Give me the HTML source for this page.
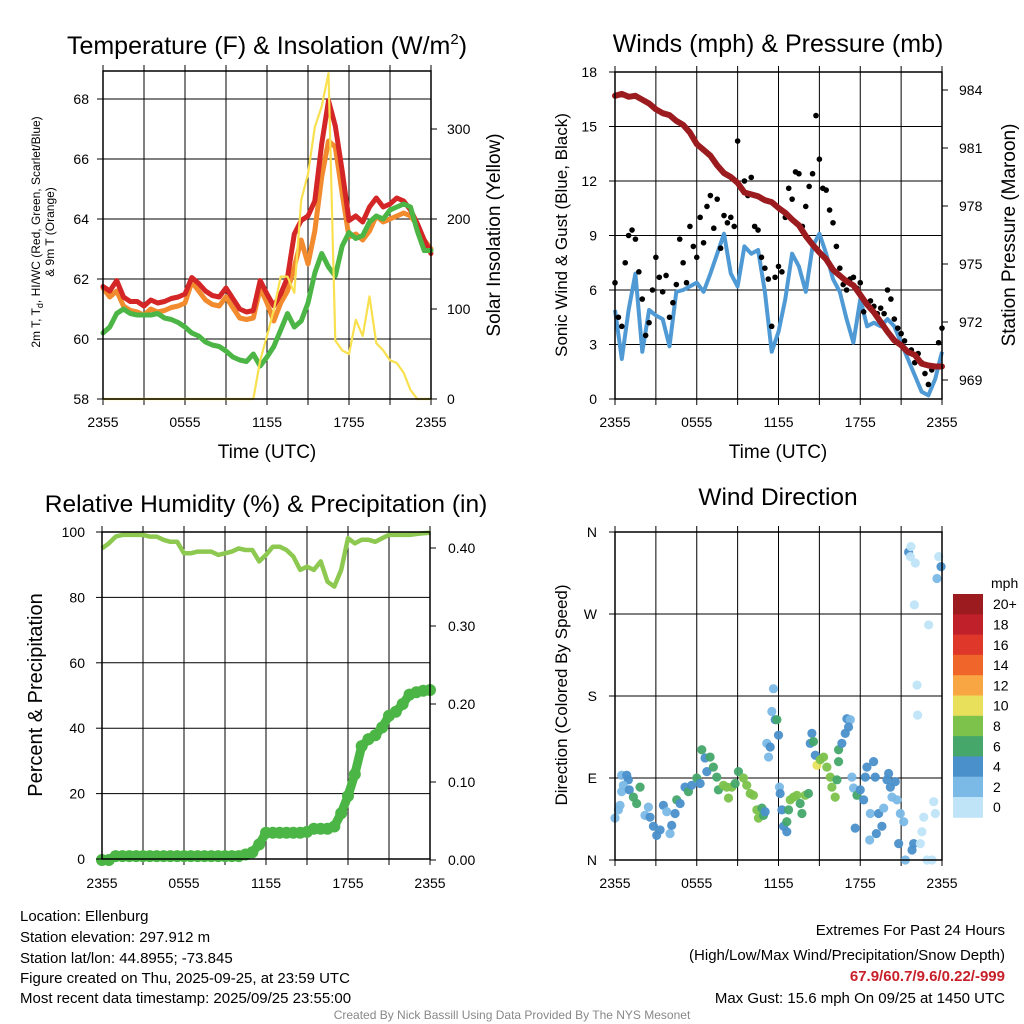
<!DOCTYPE html>
<html><head><meta charset="utf-8">
<style>
body{margin:0;background:#fff;}
svg{display:block;font-family:"Liberation Sans",sans-serif;}
</style></head>
<body>
<svg id="fig" width="1024" height="1024" viewBox="0 0 1024 1024">
<rect width="1024" height="1024" fill="#fff"/>
<g id="p1"></g>
<g id="p2"></g>
<g id="p3"></g>
<g id="p4"></g>
<g font-size="15" fill="#000">
<text x="20" y="921">Location: Ellenburg</text>
<text x="20" y="942">Station elevation: 297.912 m</text>
<text x="20" y="963">Station lat/lon: 44.8955; -73.845</text>
<text x="20" y="983">Figure created on Thu, 2025-09-25, at 23:59 UTC</text>
<text x="20" y="1003">Most recent data timestamp: 2025/09/25 23:55:00</text>
</g>
<g font-size="15" text-anchor="end">
<text x="1005" y="935">Extremes For Past 24 Hours</text>
<text x="1005" y="960">(High/Low/Max Wind/Precipitation/Snow Depth)</text>
<text x="1005" y="981" fill="#c8202a" font-weight="bold">67.9/60.7/9.6/0.22/-999</text>
<text x="1005" y="1003">Max Gust: 15.6 mph On 09/25 at 1450 UTC</text>
</g>
<text x="512" y="1019" font-size="12" fill="#888" text-anchor="middle">Created By Nick Bassill Using Data Provided By The NYS Mesonet</text>
</svg>
<script>
// ---------- data ----------
const xTickLabels = ["2355","0555","1155","1755","2355"];
const tempRed = [61.75,61.6,61.95,61.4,61.25,61.25,61.1,61.3,61.2,61.25,61.35,61.4,61.5,62.05,61.85,61.6,61.45,61.4,61.7,61.35,61.0,60.9,60.95,61.95,61.5,61.1,61.5,62.05,63.5,63.95,64.1,64.6,66.5,67.95,67.1,65.6,63.95,64.1,63.9,64.4,64.7,64.4,64.5,64.7,64.6,64.3,63.85,63.3,62.85];
const tempOrange = [61.7,61.4,61.6,61.1,60.95,60.9,60.8,61.0,60.9,60.95,61.05,61.1,61.2,61.9,61.6,61.3,61.15,61.1,61.4,61.05,60.7,60.65,60.7,61.7,61.2,60.6,61.2,61.6,62.4,63.3,62.5,63.6,65.4,66.6,66.4,64.85,63.4,63.5,63.3,63.6,64.1,63.9,64.0,64.1,64.2,64.1,63.8,63.3,63.0];
const tempGreen = [60.2,60.4,60.85,61.0,60.85,60.8,60.8,60.8,60.85,60.7,60.65,60.55,60.4,60.2,60.1,59.9,59.8,59.75,59.6,59.4,59.3,59.25,59.5,59.1,59.4,59.75,60.3,60.85,60.4,60.6,61.2,62.2,62.85,62.4,62.1,63.1,63.55,63.35,63.45,63.9,64.1,64.0,64.3,64.4,64.5,64.4,63.6,62.95,62.95];
const solar = [0,0,0,0,0,0,0,0,0,0,0,0,0,0,0,0,0,0,0,0,0,0,0,43,70,99,136,136,118,221,250,302,325,362,65,54,50,88,70,114,62,54,43,40,29,10,0,0,0];
const tempTicks = [58,60,62,64,66,68];
const solarTicks = [0,100,200,300];

const windSpd = [4.9,2.2,4.9,6.9,2.6,4.9,4.6,4.4,2.9,5.9,6.0,6.2,6.4,5.9,6.9,8.0,9.1,6.9,6.2,8.4,8.0,8.2,5.9,2.6,3.7,5.5,8.0,7.3,5.9,8.4,9.1,8.0,6.6,5.9,4.4,3.1,5.5,4.0,4.2,4.0,4.4,4.0,3.1,2.2,1.3,0.4,0.2,1.1,2.6];
const gust = [6.4,4.5,4.0,7.5,9.0,9.3,8.8,7.0,5.5,3.5,4.2,6.0,7.8,6.7,5.9,6.8,4.5,5.3,6.3,8.8,7.5,6.4,9.5,8.4,7.8,10.0,8.6,10.6,11.2,9.4,11.0,8.3,10.1,9.7,10.0,9.5,14.2,11.6,12.0,11.2,12.2,9.5,9.3,7.8,7.2,6.6,4.0,6.7,7.3,7.0,10.0,11.6,11.0,12.5,12.4,9.5,10.6,11.7,12.4,15.6,13.2,11.6,11.5,10.4,9.7,8.4,7.2,6.3,6.0,6.6,6.7,6.1,6.4,4.8,5.3,5.4,5.1,4.7,5.0,4.7,6.0,5.5,4.4,3.9,3.6,3.2,2.6,2.7,2.0,2.5,2.0,1.4,0.8,1.6,1.8,3.1,3.9];
const pressure = [983.7,983.8,983.65,983.7,983.5,983.3,983.0,982.8,982.7,982.4,982.2,981.8,981.2,980.9,980.6,980.1,979.7,979.5,979.2,978.7,978.6,978.5,978.3,978.2,977.9,977.65,977.3,977.0,976.45,976.0,975.6,975.25,974.7,974.4,974.1,973.9,973.4,972.9,972.5,972.0,971.5,971.05,970.8,970.45,970.3,969.85,969.75,969.7,969.7];
const windTicks = [0,3,6,9,12,15,18];
const presTicks = [969,972,975,978,981,984];

const rh = [95.0,96.5,98.6,99.1,99.1,99.1,99.1,98.6,98.6,97.6,97.0,97.0,93.5,93.5,94.0,94.0,94.0,93.0,93.5,94.0,95.0,94.5,94.5,91.0,93.0,95.5,95.5,94.5,92.5,88.4,89.4,88.4,91.0,84.8,83.3,88.4,98.1,96.5,97.6,97.6,97.0,98.1,99.1,99.1,99.1,99.1,99.4,99.6,99.8];
const precip = [0,0,0.005,0.005,0.005,0.005,0.005,0.005,0.005,0.005,0.005,0.005,0.005,0.005,0.005,0.005,0.005,0.005,0.005,0.005,0.005,0.007,0.01,0.02,0.035,0.035,0.035,0.035,0.035,0.035,0.036,0.04,0.04,0.04,0.043,0.06,0.082,0.11,0.146,0.155,0.16,0.17,0.185,0.19,0.2,0.212,0.215,0.217,0.218];
const rhTicks = [0,20,40,60,80,100];
const precipTicks = ["0.00","0.10","0.20","0.30","0.40"];

const wdHour = [0.0,0.25,0.37,0.49,0.86,0.98,0.61,0.49,1.05,1.35,1.59,1.84,2.2,2.45,2.57,2.82,3.06,3.31,3.55,3.8,4.04,4.16,4.41,4.53,4.78,5.14,5.39,5.63,6.0,6.25,6.37,6.61,6.74,6.98,7.22,7.47,7.59,7.96,8.2,8.33,8.57,8.82,9.06,9.43,9.67,9.92,10.16,10.41,10.53,10.78,10.9,11.02,11.14,11.27,11.39,11.51,11.63,11.76,11.88,12.0,12.07,12.12,12.25,12.37,12.61,12.61,12.74,12.86,13.1,13.35,13.59,13.72,13.96,14.2,14.33,14.45,14.57,14.7,14.82,15.06,15.31,15.55,15.8,15.92,16.16,16.29,16.41,16.41,16.65,16.9,17.02,17.27,17.14,17.39,17.51,17.63,17.76,18.0,18.25,18.37,18.49,18.74,18.69,18.98,19.1,19.18,19.35,19.59,19.72,19.96,20.08,20.21,20.33,20.57,20.7,20.82,20.94,21.19,21.31,21.55,21.72,21.68,21.8,21.92,22.04,21.97,22.17,22.21,22.41,22.53,22.66,23.02,22.9,23.27,23.39,23.51,23.63,23.76,23.93];
const wdDir = [46,55,60,93,93,88,82,75,77,69,62,80,49,58,47,37,27,33,60,53,29,38,51,66,62,80,75,82,90,84,121,112,97,113,102,91,77,82,80,68,80,84,97,90,82,73,71,55,46,57,49,53,128,113,124,163,188,154,154,137,80,73,55,37,31,42,55,66,69,71,62,51,71,73,128,139,130,115,104,110,113,102,91,80,69,88,108,121,128,139,155,154,146,91,79,35,71,77,66,91,102,51,22,108,91,29,51,37,57,88,95,80,69,86,66,18,51,42,0,338,344,333,11,18,326,280,192,159,18,31,47,258,0,0,64,51,309,333,322];
const wdSpd = [3,3,2,2,4,4,2,2,4,6,6,6,2,2,4,4,4,4,4,2,2,4,4,6,4,4,6,4,6,4,6,4,4,6,6,6,6,8,8,8,8,6,6,8,8,8,8,8,8,6,6,4,2,2,4,2,2,4,6,4,2,4,4,4,4,6,6,8,8,8,6,6,8,6,4,4,6,4,10,8,8,8,8,8,8,6,6,6,4,4,4,2,4,2,2,4,6,4,4,4,4,2,2,4,4,4,4,4,2,4,4,4,2,4,2,4,2,2,2,4,1,1,4,4,1,1,1,1,1,1,1,1,1,1,1,1,2,1,4];
const dirTicks = ["N","E","S","W","N"];
const spdLabels = ["0","2","4","6","8","10","12","14","16","18","20+"];
const spdColors = ["#bfe4f8","#7bb9e6","#4a90cb","#45a86a","#7cc24b","#e8e05a","#f7a643","#f06529","#e0372b","#c0202a","#9b1b1f"];

// ---------- helpers ----------
const NS = "http://www.w3.org/2000/svg";
function mk(parent, tag, attrs, txt){
  const e = document.createElementNS(NS, tag);
  for (const k in attrs) e.setAttribute(k, attrs[k]);
  if (txt !== undefined) e.textContent = txt;
  parent.appendChild(e);
  return e;
}
function lin(d0,d1,r0,r1){ return v => r0 + (v-d0)/(d1-d0)*(r1-r0); }
function pathFrom(xs, ys){ return xs.map((x,i)=>(i?"L":"M")+x.toFixed(1)+","+ys[i].toFixed(1)).join(""); }

function frame(g, L, T, R, B, hLines){
  for (let k=0;k<=8;k++){
    const x = L + (R-L)*k/8;
    const gl = mk(g,"line",{x1:x,y1:T,x2:x,y2:B,stroke:"#000","stroke-width":1});
    
    
    mk(g,"line",{x1:x,y1:T,x2:x,y2:T-6,stroke:"#000","stroke-width":1});
    mk(g,"line",{x1:x,y1:B,x2:x,y2:B+6,stroke:"#000","stroke-width":1});
  }
  hLines.forEach(y=>{
    const hl = mk(g,"line",{x1:L,y1:y,x2:R,y2:y,stroke:"#000","stroke-width":1});
    
    
  });
}
function border(g,L,T,R,B){
  const b = mk(g,"rect",{x:L,y:T,width:R-L,height:B-T,fill:"none",stroke:"#000","stroke-width":1.5});
  
  
}
function xTicks(g,L,R,y){
  xTickLabels.forEach((t,i)=>{
    const el = mk(g,"text",{x:L+(R-L)*i/4,y:y,"font-size":14,"text-anchor":"middle"},t);
    
    
  });
}
function title(g,x,y,txt,size){
  const el = mk(g,"text",{x:x,y:y,"font-size":size||23,"text-anchor":"middle"});
  el.innerHTML = txt;
  
  
  return el;
}
function vlabel(g,x,y,txt,size){
  const el = mk(g,"text",{x:0,y:0,"font-size":size,"text-anchor":"middle",transform:`translate(${x},${y}) rotate(-90)`});
  el.innerHTML = txt;
  
  
  return el;
}
const idx = n => Array.from({length:n},(_,i)=>i);

// ---------- Panel 1 ----------
(function(){
  const g = document.getElementById("p1");
  const L=103,R=431,T=71,B=399;
  const x = lin(0,48,L,R), y = lin(58,68,399,99), ys = lin(0,300,399,129);
  frame(g,L,T,R,B,tempTicks.map(y));
  const n = tempRed.length;
  [[tempOrange,"#f28a2e","temp-9m-line"],[tempRed,"#d42626","temp-2m-line"],[tempGreen,"#4bb545","dewpoint-line"]].forEach(s=>{
    const p = mk(g,"path",{d:pathFrom(idx(n).map(x), s[0].map(y)),fill:"none",stroke:s[1],"stroke-width":5,"stroke-linejoin":"round","stroke-linecap":"round"});
    
    
  });
  const sp = mk(g,"path",{d:pathFrom(idx(solar.length).map(x), solar.map(ys)),fill:"none",stroke:"#f9e04f","stroke-width":2.2,"stroke-linejoin":"round"});
  
  
  border(g,L,T,R,B);
  tempTicks.forEach(v=>{
    mk(g,"line",{x1:L-6,y1:y(v),x2:L,y2:y(v),stroke:"#000"});
    const t = mk(g,"text",{x:L-14,y:y(v)+5,"font-size":14,"text-anchor":"end"},String(v));
    
    
  });
  solarTicks.forEach(v=>{
    mk(g,"line",{x1:R,y1:ys(v),x2:R+6,y2:ys(v),stroke:"#000"});
    const t = mk(g,"text",{x:R+16,y:ys(v)+5,"font-size":14},String(v));
    
    
  });
  xTicks(g,L,R,427);
  const xt = mk(g,"text",{x:267,y:458,"font-size":19,"text-anchor":"middle"},"Time (UTC)");
  
  
  title(g,267,54,'Temperature (F) &amp; Insolation (W/m<tspan font-size="15" dy="-10">2</tspan><tspan dy="10">)</tspan>',25);
  vlabel(g,40,232,'2m T, T<tspan font-size="9" dy="3">d</tspan><tspan dy="-3">, HI/WC (Red, Green, Scarlet/Blue)</tspan>',12);
  vlabel(g,54,232,'&amp; 9m T (Orange)',12);
  vlabel(g,500,235,'Solar Insolation (Yellow)',19);
})();

// ---------- Panel 2 ----------
(function(){
  const g = document.getElementById("p2");
  const L=615,R=942,T=72,B=399;
  const x = lin(0,48,L,R), xg = lin(0,96,L,R), y = lin(0,18,399,72), yp = lin(969,984,380,90);
  frame(g,L,T,R,B,windTicks.map(y));
  const wl = mk(g,"path",{d:pathFrom(idx(windSpd.length).map(x), windSpd.map(y)),fill:"none",stroke:"#4f9ad4","stroke-width":4,"stroke-linejoin":"round"});
  
  
  gust.forEach((v,i)=>{
    const c = mk(g,"circle",{cx:xg(i),cy:y(v),r:2.8,fill:"#000"});
    
    
  });
  const pl = mk(g,"path",{d:pathFrom(idx(pressure.length).map(x), pressure.map(yp)),fill:"none",stroke:"#9b1b1f","stroke-width":6,"stroke-linejoin":"round","stroke-linecap":"round"});
  
  
  border(g,L,T,R,B);
  windTicks.forEach(v=>{
    mk(g,"line",{x1:L-6,y1:y(v),x2:L,y2:y(v),stroke:"#000"});
    const t = mk(g,"text",{x:L-18,y:y(v)+5,"font-size":14,"text-anchor":"end"},String(v));
    
    
  });
  presTicks.forEach(v=>{
    mk(g,"line",{x1:R,y1:yp(v),x2:R+6,y2:yp(v),stroke:"#000"});
    const t = mk(g,"text",{x:R+17,y:yp(v)+5,"font-size":14},String(v));
    
    
  });
  xTicks(g,L,R,427);
  const xt = mk(g,"text",{x:778,y:458,"font-size":19,"text-anchor":"middle"},"Time (UTC)");
  
  
  title(g,778,52,'Winds (mph) &amp; Pressure (mb)',25);
  vlabel(g,567,235,'Sonic Wind &amp; Gust (Blue, Black)',17);
  vlabel(g,1015,235,'Station Pressure (Maroon)',19);
})();

// ---------- Panel 3 ----------
(function(){
  const g = document.getElementById("p3");
  const L=102,R=430,T=532,B=859;
  const x = lin(0,48,L,R), y = lin(0,100,859,532), yp = lin(0,0.1,860,782);
  frame(g,L,T,R,B,rhTicks.map(y));
  const rl = mk(g,"path",{d:pathFrom(idx(rh.length).map(x), rh.map(y)),fill:"none",stroke:"#8dc951","stroke-width":4.5,"stroke-linejoin":"round"});
  
  
  const pr = mk(g,"path",{d:pathFrom(idx(precip.length).map(x), precip.map(yp)),fill:"none",stroke:"#4bb545","stroke-width":9,"stroke-linejoin":"round"});
  
  
  precip.forEach((v,i)=>{
    const c = mk(g,"circle",{cx:x(i),cy:yp(v),r:6,fill:"#4bb545"});
    
    
  });
  border(g,L,T,R,B);
  rhTicks.forEach(v=>{
    mk(g,"line",{x1:L-6,y1:y(v),x2:L,y2:y(v),stroke:"#000"});
    const t = mk(g,"text",{x:L-17,y:y(v)+5,"font-size":14,"text-anchor":"end"},String(v));
    
    
  });
  precipTicks.forEach(v=>{
    const yy = yp(parseFloat(v));
    mk(g,"line",{x1:R,y1:yy,x2:R+6,y2:yy,stroke:"#000"});
    const t = mk(g,"text",{x:R+18,y:yy+5,"font-size":14},v);
    
    
  });
  xTicks(g,L,R,888);
  title(g,266,512,'Relative Humidity (%) &amp; Precipitation (in)',24.5);
  vlabel(g,42,695,'Percent &amp; Precipitation',20);
})();

// ---------- Panel 4 ----------
(function(){
  const g = document.getElementById("p4");
  const L=615,R=942,T=532,B=860;
  const x = lin(0,24,L,R), y = lin(0,360,860,532);
  frame(g,L,T,R,B,[0,90,180,270,360].map(y));
  wdHour.forEach((h,i)=>{
    const ci = Math.min(10, Math.floor(wdSpd[i]/2));
    const c = mk(g,"circle",{cx:x(h),cy:y(wdDir[i]),r:4.6,fill:spdColors[ci],"fill-opacity":0.95});
    
    
  });
  border(g,L,T,R,B);
  dirTicks.forEach((t,i)=>{
    const yy = y(i*90);
    mk(g,"line",{x1:L-6,y1:yy,x2:L,y2:yy,stroke:"#000"});
    const el = mk(g,"text",{x:L-18,y:yy+5,"font-size":14,"text-anchor":"end"},t);
    
    
  });
  xTicks(g,L,R,888);
  title(g,778,505,'Wind Direction',24.5);
  vlabel(g,567,695,'Direction (Colored By Speed)',17);
  const cb = mk(g,"g",{});
  
  
  const u = mk(cb,"text",{x:991,y:588,"font-size":14},"mph");
  
  
  const bh = 20.3;
  spdLabels.forEach((lab,i)=>{
    const k = 10-i;
    const yy = 594 + i*bh;
    const r = mk(cb,"rect",{x:953,y:yy,width:30,height:bh+0.5,fill:spdColors[k]});
    
    
    const t = mk(cb,"text",{x:993,y:yy+bh/2+5,"font-size":14},spdLabels[k]);
    
    
  });
})();
</script>
</body></html>
